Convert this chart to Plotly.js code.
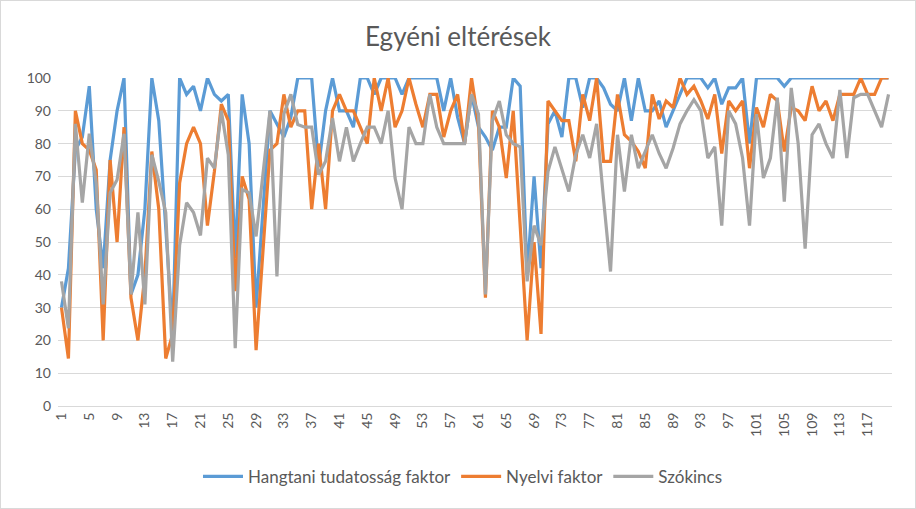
<!DOCTYPE html>
<html>
<head>
<meta charset="utf-8">
<script src="https://cdn.plot.ly/plotly-3.0.1.min.js"></script>
<style>
html,body{margin:0;padding:0;background:#fff;}
#wrap{position:relative;width:916px;height:509px;}
#chart{width:916px;height:509px;}
#frame{position:absolute;left:0;top:0;width:916px;height:509px;box-sizing:border-box;border:1px solid #d9d9d9;pointer-events:none;}
</style>
</head>
<body>
<div id="wrap"><div id="chart"></div><div id="frame"></div></div>
<script>
const seriesNames = ["Hangtani tudatosság faktor", "Nyelvi faktor", "Szókincs"];

const hangtani = [30,42,78,82,97.5,60,42,75,90,100,
34,40,60,100,87,55,22,100,95,97.5,
90,100,95,93,95,45,95,80,30,60,
90,86,82,88,100,100,100,73,90,100,
90,90,85,100,100,95,100,100,100,95,
100,100,100,100,100,90,100,88,80,95,
85,82,78,85,85,100,97.5,40,70,42,
86,90,82,100,100,91,100,100,97,92,
90,100,87,100,90,90,93,85,90,95,
100,100,100,97,100,92,97,97,100,80,
100,100,100,100,97.5,100,100,100,100,100,
100,100,100,100,100,100,100,100,100,100];

const nyelvi = [30,14.5,90,80,78,72,20,75,50,85,
33,20,40,77.6,60,14.5,22,68,80,85,
80,55,71.5,92,87,35,70,63,17,48,
78,80,95,85,90,90,60,80,60,90,
95,90,90,85,80,100,90,100,85,90,
100,92,85,95,95,82,90,95,80,100,
86,33,90,85,69.5,90,55,20,50,22,
93,90,87,87,74.6,95,87,100,74.6,74.6,
95,82.7,80.7,77.6,72.5,95,87.5,93,91,100,
95,97.5,93,87.5,95,77,93,90,93,72.5,
91,85,95,93,77.6,91,90,87,97.5,90,
93,87,95,95,95,100,95,95,100,100];

const szokincs = [38,23.7,86,62,83,68,31,65,69,83,
34,59,31,76.6,68.5,59,13.5,49,62,59,
52,75.6,72.5,90,76.6,17.6,66,65,51.7,70,
90,39.5,89,95,85.8,85,85,70.5,74.6,87.8,
74.6,85,74.6,80,85,85,80,90,69.5,60,
85,80,80,95,85,80,80,80,80,95,
89,34,87,93,82.7,80,79,38,55,49,
71.5,79,72.5,65.4,76.6,82.7,75.6,86,63,41,
82.7,65.4,82.7,72.5,77.6,82.7,77,72.5,78.6,86,
90,93.4,90,75.6,79,55,90,86,75.6,55,
89,69.5,75.6,94,62.3,97,80,48,82.7,86,
80,75.6,96.4,75.6,94,95,95,90,85,95];

const categories = hangtani.map((_, i) => i + 1);
const tickLabels = categories.filter(c => (c - 1) % 4 === 0);

const colors = ["#5b9bd5", "#ed7d31", "#a5a5a5"];
const allSeries = [hangtani, nyelvi, szokincs];

const traces = allSeries.map((vals, k) => ({
  x: categories,
  y: vals,
  type: "scatter",
  mode: "lines",
  name: seriesNames[k],
  line: {color: colors[k], width: 3.2, shape: "linear"}
}));

const font = "Lato, 'Open Sans', sans-serif";

const layout = {
  width: 916, height: 509,
  margin: {l: 58, r: 24, t: 78, b: 103, autoexpand: false},
  paper_bgcolor: "#ffffff",
  plot_bgcolor: "#ffffff",
  font: {family: font, color: "#595959", size: 14},
  title: {text: "Egyéni eltérések", font: {family: font, size: 26, color: "#595959"}, x: 0.5, xanchor: "center", xref: "container", y: 0.927, yanchor: "middle"},
  showlegend: true,
  legend: {orientation: "h", x: 0.4856, xanchor: "center", y: -0.216, yanchor: "middle", font: {family: font, size: 17, color: "#595959"}, traceorder: "normal", itemwidth: 40},
  xaxis: {
    type: "linear",
    range: [0.5, 120.5],
    tickmode: "array",
    tickvals: tickLabels,
    ticktext: tickLabels.map(String),
    tickangle: -90,
    ticks: "",
    showgrid: false,
    zeroline: false,
    showline: true,
    linecolor: "#d9d9d9",
    linewidth: 1,
    automargin: false,
    tickfont: {family: font, size: 14, color: "#595959"},
    fixedrange: true
  },
  yaxis: {
    range: [0, 100],
    tickmode: "array",
    tickvals: [0,10,20,30,40,50,60,70,80,90,100],
    ticks: "",
    showgrid: true,
    gridcolor: "#d9d9d9",
    gridwidth: 1,
    zeroline: false,
    showline: false,
    automargin: false,
    ticklabelstandoff: 6,
    tickfont: {family: font, size: 14, color: "#595959"},
    fixedrange: true
  }
};

Plotly.newPlot("chart", traces, layout, {staticPlot: true, displayModeBar: false});
</script>
</body>
</html>
